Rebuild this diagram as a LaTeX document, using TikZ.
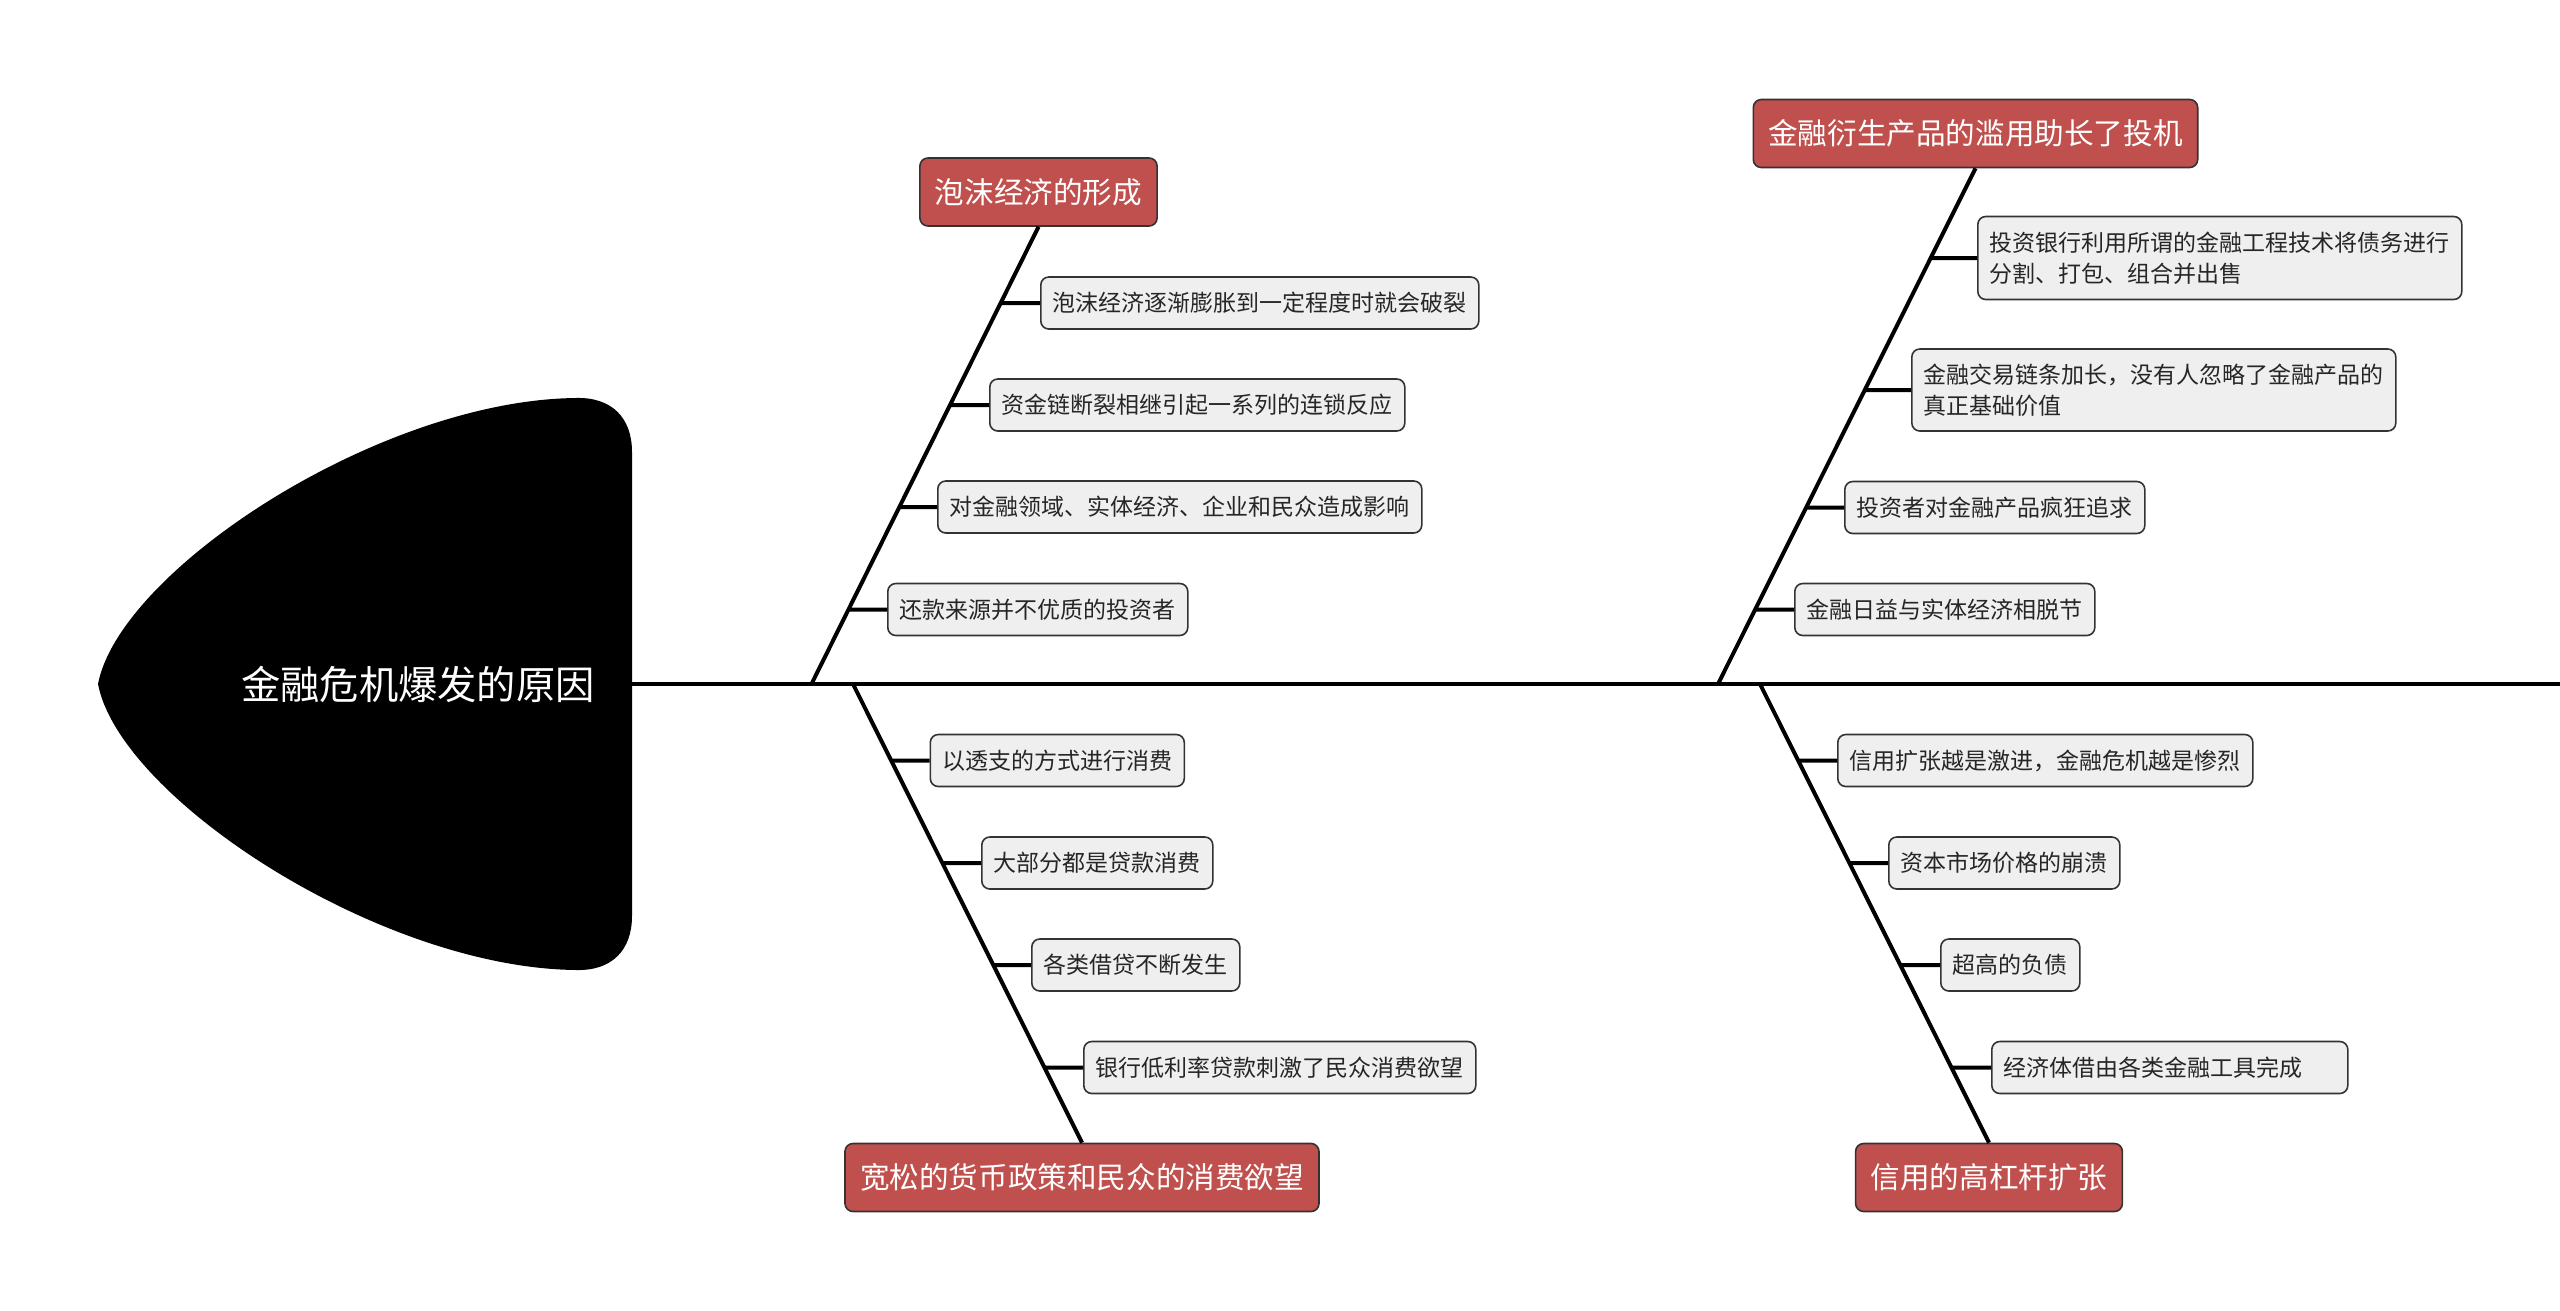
\documentclass[tikz,border=0pt]{standalone}
\usepackage{fontspec}
\setmainfont{Noto Sans CJK SC}
\usetikzlibrary{calc}
\definecolor{catred}{HTML}{C0504D}
\definecolor{subfill}{HTML}{EFEFEF}
\definecolor{boxline}{HTML}{333333}
\begin{document}
\begin{tikzpicture}[x=0.5pt,y=-0.5pt,
  conn/.style={line width=2pt, black},
  catbox/.style={draw=boxline, line width=0.8pt, fill=catred, rounded corners=4pt, text=white,
    font=\fontsize{14.8}{18}\selectfont, inner xsep=7.5pt, inner ysep=0pt, minimum height=34pt},
  subbox/.style={draw=boxline, line width=0.8pt, fill=subfill, rounded corners=4pt, text=black!85,
    font=\fontsize{11.5}{15.5}\selectfont, inner xsep=6pt, inner ysep=0pt, minimum height=26pt,
    anchor=west, align=left},
]
\useasboundingbox (0,0) rectangle (2560,1311);

% head of the fish
\fill[black] (98,684) .. controls (120,570) and (380,400) .. (576,398)
  .. controls (612,397) and (632,418) .. (632,452) -- (632,916)
  .. controls (632,950) and (612,971) .. (576,970)
  .. controls (380,968) and (120,798) .. (98,684) -- cycle;
\node[text=white, font=\fontsize{19.65}{24}\selectfont] (title) at (418,684) {金融危机爆发的原因};

% spine
\coordinate (head) at (632,684);
\coordinate (tail) at (2560,684);
\coordinate (bUL) at (811.5,684);
\coordinate (bLL) at (853,684);
\coordinate (bUR) at (1718,684);
\coordinate (bLR) at (1760,684);
\draw[conn] (head) -- (tail);

% category boxes
\node[catbox] (cat1) at (1038.5,192) {泡沫经济的形成};
\node[catbox] (cat2) at (1082,1177.5) {宽松的货币政策和民众的消费欲望};
\node[catbox] (cat3) at (1975.5,133.5) {金融衍生产品的滥用助长了投机};
\node[catbox] (cat4) at (1989,1177.5) {信用的高杠杆扩张};

\draw[conn] (cat1.south) -- (bUL);
\draw[conn] (cat2.north) -- (bLL);
\draw[conn] (cat3.south) -- (bUR);
\draw[conn] (cat4.north) -- (bLR);

% sub boxes: upper left
\node[subbox] (L1) at (1040,303) {泡沫经济逐渐膨胀到一定程度时就会破裂};
\node[subbox] (L2) at (989,405) {资金链断裂相继引起一系列的连锁反应};
\node[subbox] (L3) at (937,507) {对金融领域、实体经济、企业和民众造成影响};
\node[subbox] (L4) at (887,609.5) {还款来源并不优质的投资者};
% lower left
\node[subbox] (D1) at (929.5,760.5) {以透支的方式进行消费};
\node[subbox] (D2) at (981,863) {大部分都是贷款消费};
\node[subbox] (D3) at (1031,965) {各类借贷不断发生};
\node[subbox] (D4) at (1083,1067.5) {银行低利率贷款刺激了民众消费欲望};
% upper right
\node[subbox, minimum height=41.5pt] (R1) at (1977,258) {投资银行利用所谓的金融工程技术将债务进行\\分割、打包、组合并出售};
\node[subbox, minimum height=41pt] (R2) at (1911,390) {金融交易链条加长，没有人忽略了金融产品的\\真正基础价值};
\node[subbox] (R3) at (1844,507.5) {投资者对金融产品疯狂追求};
\node[subbox] (R4) at (1794,609.5) {金融日益与实体经济相脱节};
% lower right
\node[subbox] (S1) at (1837,760.5) {信用扩张越是激进，金融危机越是惨烈};
\node[subbox] (S2) at (1888,863) {资本市场价格的崩溃};
\node[subbox] (S3) at (1940,965) {超高的负债};
\node[subbox, text width=166pt] (S4) at (1991,1067.5) {经济体借由各类金融工具完成};

% ticks
\foreach \b in {L1,L2,L3,L4}
  \draw[conn] (intersection of cat1.south--bUL and \b.west--\b.east) -- (\b.west);
\foreach \b in {D1,D2,D3,D4}
  \draw[conn] (intersection of cat2.north--bLL and \b.west--\b.east) -- (\b.west);
\foreach \b in {R1,R2,R3,R4}
  \draw[conn] (intersection of cat3.south--bUR and \b.west--\b.east) -- (\b.west);
\foreach \b in {S1,S2,S3,S4}
  \draw[conn] (intersection of cat4.north--bLR and \b.west--\b.east) -- (\b.west);
\end{tikzpicture}
\end{document}
